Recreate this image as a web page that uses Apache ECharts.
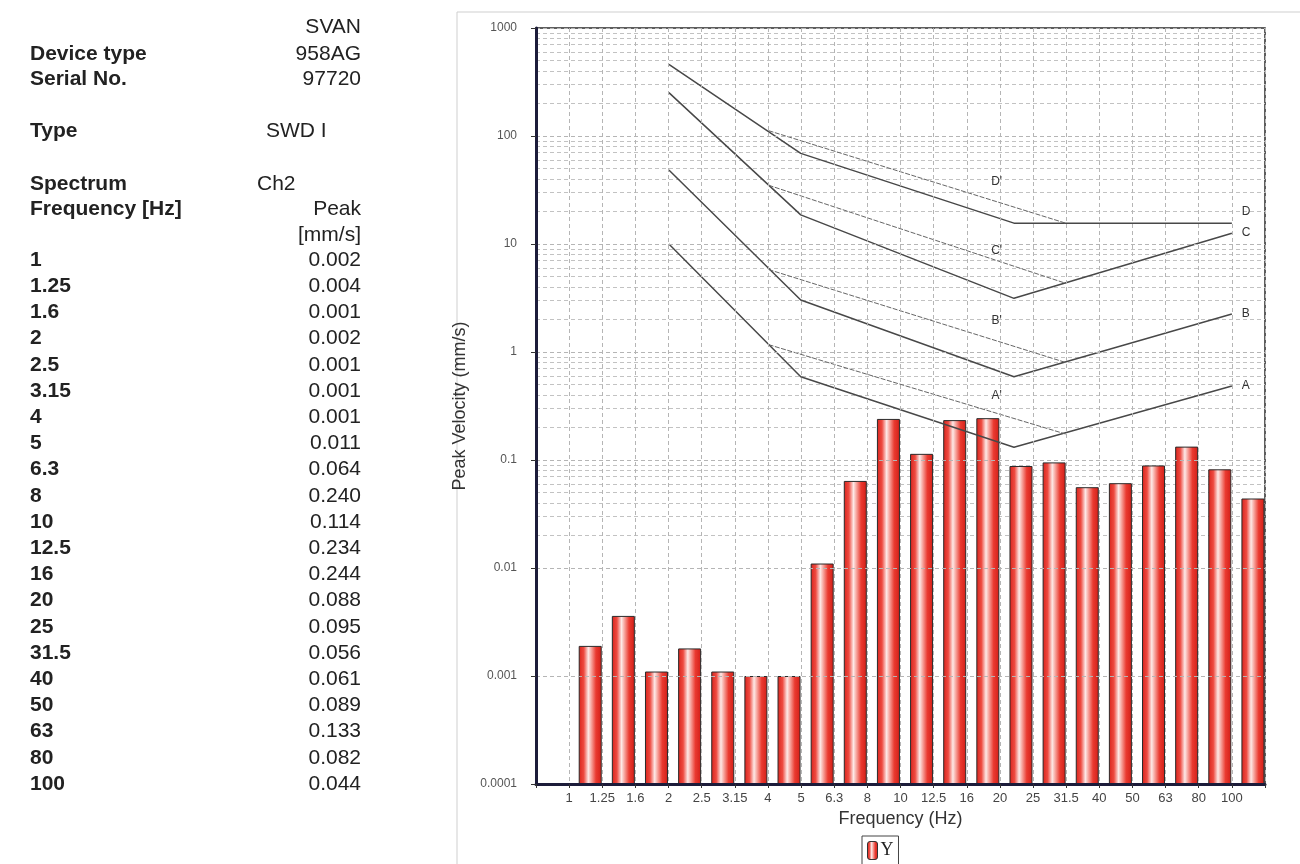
<!DOCTYPE html>
<html>
<head>
<meta charset="utf-8">
<script src="https://cdn.jsdelivr.net/npm/echarts@6/dist/echarts.min.js"></script>
<style>
html,body{margin:0;padding:0;background:#fff;}
#chart{width:1300px;height:864px;}
</style>
</head>
<body>
<div id="chart"></div>
<script>
// ---------- data ----------
const categories = ['1','1.25','1.6','2','2.5','3.15','4','5','6.3','8','10','12.5','16','20','25','31.5','40','50','63','80','100'];
const peakValues = [0.0019,0.0036,0.0011,0.0018,0.0011,0.0010,0.0010,0.011,0.064,0.240,0.114,0.234,0.244,0.088,0.095,0.056,0.061,0.089,0.133,0.082,0.044];
const yTickLabels = ['0.0001','0.001','0.01','0.1','1','10','100','1000'];

// limit curves [frequency Hz, velocity mm/s]
const lineD  = [[2, 460], [5, 69], [22, 15.6], [100, 15.6]];
const lineDp = [[4, 112], [31.5, 15.6]];
const lineC  = [[2, 252], [5, 18.6], [22, 3.14], [100, 12.6]];
const lineCp = [[4, 35], [31.5, 4.33]];
const lineB  = [[2, 48.4], [5, 3.03], [22, 0.59], [100, 2.25]];
const lineBp = [[4, 5.8], [31.5, 0.8]];
const lineA  = [[2, 10], [5, 0.59], [22, 0.131], [100, 0.484]];
const lineAp = [[4, 1.17], [31.5, 0.174]];
// primed curve label anchors [name, frequency, velocity]
const primeLabels = [["D'", 19.5, 37.8], ["C'", 19.5, 8.67], ["B'", 19.5, 1.94], ["A'", 19.5, 0.394]];

const infoRows = [['', 'SVAN'], ['Device type', '958AG'], ['Serial No.', '97720']];

// ---------- chart ----------
const chart = echarts.init(document.getElementById('chart'));

const GL = 536, GT = 28, GW = 729, GH = 756;
const fontAx = 'Arial, "Liberation Sans", sans-serif';

// minor log gridlines (2..9 of each decade)
const minorLines = [];
for (let d = -4; d < 3; d++) {
  for (let m = 2; m <= 9; m++) minorLines.push({ yAxis: m * Math.pow(10, d) });
}

const labelAxisCats = [''].concat(categories, ['']);
const barAxisCats = [''].concat(categories);
const barData = ['-'].concat(peakValues);

const barGradient = new echarts.graphic.LinearGradient(0, 0, 1, 0, [
  { offset: 0, color: '#d8231c' },
  { offset: 0.22, color: '#ee4a40' },
  { offset: 0.42, color: '#fde9e7' },
  { offset: 0.55, color: '#f7a49d' },
  { offset: 0.75, color: '#ea3a30' },
  { offset: 1, color: '#d21e17' }
]);

function mainLine(name, data, extra) {
  return Object.assign({
    name: name, type: 'line', data: data,
    xAxisIndex: 1, yAxisIndex: 0, symbol: 'none', silent: true, z: 4,
    lineStyle: { color: '#484848', width: 1.5 },
    endLabel: { show: true, formatter: name, color: '#333', fontSize: 12, fontFamily: fontAx, distance: 10 },
    animation: false
  }, extra || {});
}
function primeLine(name, data, lbl) {
  return {
    name: name, type: 'line', data: data,
    xAxisIndex: 1, yAxisIndex: 0, symbol: 'none', silent: true, z: 4,
    lineStyle: { color: '#666', width: 1, type: [5, 1.5] },
    markPoint: {
      symbol: 'circle', symbolSize: 0, silent: true, animation: false,
      label: { show: true, formatter: lbl[0], color: '#333', fontSize: 12, fontFamily: fontAx, position: 'inside' },
      data: [{ coord: [lbl[1], lbl[2]] }]
    },
    animation: false
  };
}

const tableGraphics = [];
const LX = 30, RX = 361;
const bold = 'bold 21px Arial, "Liberation Sans", sans-serif';
const reg = '21px Arial, "Liberation Sans", sans-serif';
function tl(x, y, text, font, align) {
  tableGraphics.push({ type: 'text', x: x, y: y,
    style: { text: text, font: font, fill: '#222', textAlign: align || 'left', textVerticalAlign: 'middle' }, silent: true });
}
const headerY = [27, 54, 79];
infoRows.forEach((r, i) => { if (r[0]) tl(LX, headerY[i], r[0], bold); tl(RX, headerY[i], r[1], reg, 'right'); });
tl(LX, 131, 'Type', bold); tl(266, 131, 'SWD I', reg);
tl(LX, 184, 'Spectrum', bold); tl(257, 184, 'Ch2', reg);
tl(LX, 209, 'Frequency [Hz]', bold); tl(RX, 209, 'Peak', reg, 'right');
tl(RX, 235, '[mm/s]', reg, 'right');
categories.forEach((c, i) => {
  const y = 260 + 26.2 * i;
  tl(LX, y, c, bold);
  tl(RX, y, peakValues[i].toFixed(3), reg, 'right');
});

const option = {
  backgroundColor: '#ffffff',
  animation: false,
  graphic: [
    { type: 'rect', shape: { x: 457, y: 12, width: 900, height: 900 }, style: { fill: 'none', stroke: '#cfcfcf', lineWidth: 1 }, silent: true, z: -10 }
  ].concat(tableGraphics),
  grid: [
    { left: GL, top: GT, width: GW, height: GH, show: true, borderColor: '#2a2a2a', borderWidth: 1.5, backgroundColor: 'transparent' },
    { left: GL + 4.5, top: GT, width: GW, height: GH, show: false }
  ],
  legend: {
    data: ['Y'], left: 862, top: 836, selectedMode: false,
    orient: 'horizontal', padding: [5, 5, 6, 5],
    borderColor: '#444', borderWidth: 1, itemWidth: 10, itemHeight: 18, itemGap: 2,
    itemStyle: { borderColor: '#333', borderWidth: 1 },
    textStyle: { fontFamily: '"Liberation Serif", "Times New Roman", serif', fontSize: 18, color: '#222', padding: [0, 0, 0, -2] }
  },
  xAxis: [
    {
      gridIndex: 0, type: 'category', data: labelAxisCats, boundaryGap: false,
      name: 'Frequency (Hz)', nameLocation: 'middle', nameGap: 22,
      nameTextStyle: { fontFamily: fontAx, fontSize: 18, color: '#333' },
      axisLine: { show: true, lineStyle: { color: '#1c1c3a', width: 3 } },
      axisTick: { show: true, length: 4, lineStyle: { color: '#333' }, interval: 0 },
      axisLabel: { interval: 0, fontFamily: fontAx, fontSize: 13, color: '#444', margin: 8 },
      splitLine: { show: true, interval: 0, lineStyle: { color: '#b5b5b5', width: 1, type: [4, 3] } },
      z: 5
    },
    {
      gridIndex: 0, type: 'log', logBase: 10, min: Math.pow(10, -0.1), max: Math.pow(10, 2.1), show: false
    },
    {
      gridIndex: 1, type: 'category', data: barAxisCats, boundaryGap: true, show: false
    }
  ],
  yAxis: [
    {
      gridIndex: 0, type: 'log', logBase: 10, min: 0.0001, max: 1000, splitNumber: 7,
      name: 'Peak Velocity (mm/s)', nameLocation: 'middle', nameGap: 49, nameRotate: 90,
      nameTextStyle: { fontFamily: fontAx, fontSize: 18, color: '#333' },
      axisLine: { show: true, lineStyle: { color: '#1c1c3a', width: 3 } },
      axisTick: { show: true, length: 5, lineStyle: { color: '#333' } },
      axisLabel: {
        fontFamily: fontAx, fontSize: 12, color: '#555', margin: 19,
        formatter: function (v) { const i = Math.round(Math.log10(v)) + 4; return yTickLabels[i] || ''; }
      },
      splitLine: { show: true, lineStyle: { color: '#b5b5b5', width: 1, type: [4, 3] } },
      z: 5
    },
    {
      gridIndex: 1, type: 'log', logBase: 10, min: 0.0001, max: 1000, startValue: 0.0001, show: false
    }
  ],
  series: [
    {
      name: 'grid', type: 'line', data: [], xAxisIndex: 1, yAxisIndex: 0, silent: true,
      markLine: {
        silent: true, symbol: 'none', animation: false, z: 1,
        label: { show: false },
        lineStyle: { color: '#c2c2c2', width: 1, type: [4, 3] },
        data: minorLines
      }
    },
    {
      name: 'Y', type: 'bar', xAxisIndex: 2, yAxisIndex: 1, data: barData,
      barWidth: 23, z: 2,
      itemStyle: { color: barGradient, borderColor: '#2a2a2a', borderWidth: 1 }
    },
    mainLine('D', lineD, { endLabel: { show: true, formatter: 'D', color: '#333', fontSize: 12, fontFamily: fontAx, distance: 10, offset: [0, -11] } }),
    primeLine("D'", lineDp, primeLabels[0]),
    mainLine('C', lineC),
    primeLine("C'", lineCp, primeLabels[1]),
    mainLine('B', lineB),
    primeLine("B'", lineBp, primeLabels[2]),
    mainLine('A', lineA),
    primeLine("A'", lineAp, primeLabels[3])
  ]
};
chart.setOption(option);
</script>
</body>
</html>
